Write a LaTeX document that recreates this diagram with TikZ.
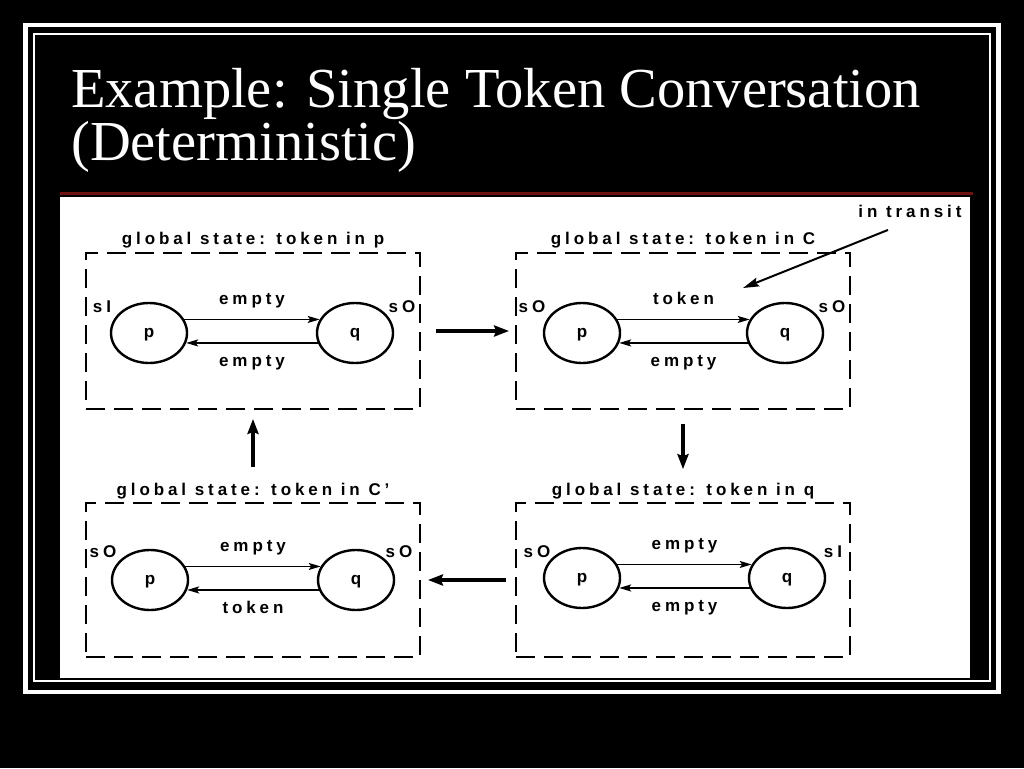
\documentclass[tikz,border=0pt]{standalone}
\usepackage{fontspec}
\setmainfont{Liberation Serif}
\newfontfamily\scanfont{Liberation Sans}[LetterSpace=23]
\usetikzlibrary{positioning,arrows.meta,shapes.geometric,calc}

\definecolor{rulered}{RGB}{110,18,18}

\begin{document}
\begin{tikzpicture}[x=1pt, y=-1pt,
  ttl/.style={text=white, inner sep=0pt, font={\fontsize{56.5}{53}\selectfont}},
  lbl/.style={inner sep=0pt, text height=12pt, text depth=3.5pt, font={\fontsize{17}{18}\scanfont\bfseries}},
  panel/.style={draw, dash pattern=on 19pt off 9pt, line width=1.8pt, minimum width=334pt,
                minimum height=156pt, inner sep=0pt},
  state/.style={lbl, ellipse, draw, line width=2.4pt, minimum width=76pt, minimum height=60pt},
  msg/.style={-{Stealth[length=12pt,width=7pt,inset=2.5pt]}, line width=1.6pt},
  flow/.style={-{Stealth[length=15pt,width=11pt,inset=2pt]}, line width=3.5pt},
  ptr/.style={-{Stealth[length=16pt,width=9pt,inset=2.5pt]}, line width=2pt}
]
\useasboundingbox (0,0) rectangle (1024,768);
\fill[black] (0,0) rectangle (1024,768);
\draw[white, line width=4.5pt] (25.5,25) rectangle (998.5,692);
\draw[white, line width=1.6pt] (34,34) rectangle (990,681);
\fill[white] (60,197) rectangle (970,678);
\draw[rulered, line width=3pt] (60,193.5) -- (973,193.5);

\node[ttl, anchor=base west] (title1) at (71,107) {Example: Single Token Conversation};
\node[ttl, anchor=base west] (title2) at (71,160) {(Deterministic)};

\node[panel] (boxP)  at (253,331) {};
\node[panel] (boxC)  at (683,331) {};
\node[panel, minimum height=154pt] (boxCp) at (253,580) {};
\node[panel, minimum height=154pt] (boxQ)  at (683,580) {};

\node[lbl, above=4pt of boxP]  (tP)  {global state: token in p};
\node[lbl, above=4pt of boxC]  (tC)  {global state: token in C};
\node[lbl, above=3pt of boxCp] (tCp) {global state: token in C’};
\node[lbl, above=3pt of boxQ]  (tQ)  {global state: token in q};

\node[state] (pP)  at (149,333) {p};
\node[state] (qP)  at (355,333) {q};
\node[state] (pC)  at (582,333) {p};
\node[state] (qC)  at (785,333) {q};
\node[state] (pCp) at (150,580) {p};
\node[state] (qCp) at (356,580) {q};
\node[state] (pQ)  at (582,578) {p};
\node[state] (qQ)  at (787,578) {q};

\node[lbl] (sP1)  at ($(pP)+(-47,-25)$)  {sI};
\node[lbl] (sP2)  at ($(qP)+(47,-25)$)   {sO};
\node[lbl] (sC1)  at ($(pC)+(-50,-25)$)  {sO};
\node[lbl] (sC2)  at ($(qC)+(47,-25)$)   {sO};
\node[lbl] (sCp1) at ($(pCp)+(-47,-27)$) {sO};
\node[lbl] (sCp2) at ($(qCp)+(43,-27)$)  {sO};
\node[lbl] (sQ1)  at ($(pQ)+(-45,-25)$)  {sO};
\node[lbl] (sQ2)  at ($(qQ)+(46,-25)$)   {sI};

\draw[msg] (pP.21)   -- node[lbl, above=11pt] (mP1)  {empty} (qP.159);
\draw[msg] (qP.195)  -- node[lbl, below=11pt] (mP2)  {empty} (pP.345);
\draw[msg] (pC.21)   -- node[lbl, above=11pt] (mC1)  {token} (qC.159);
\draw[msg] (qC.195)  -- node[lbl, below=11pt] (mC2)  {empty} (pC.345);
\draw[msg] (pCp.21)  -- node[lbl, above=11pt] (mCp1) {empty} (qCp.159);
\draw[msg] (qCp.195) -- node[lbl, below=11pt] (mCp2) {token} (pCp.345);
\draw[msg] (pQ.21)   -- node[lbl, above=11pt] (mQ1)  {empty} (qQ.159);
\draw[msg] (qQ.195)  -- node[lbl, below=11pt] (mQ2)  {empty} (pQ.345);

\node[lbl] (transit) at (910,213) {in transit};
\coordinate (transitEnd) at (743,288);
\draw[ptr] ([xshift=-22pt,yshift=-9pt]transit.south) -- (transitEnd);

\draw[flow, shorten <=15pt, shorten >=6pt] (boxP.east) -- (boxC.west);
\draw[flow, shorten <=14pt, shorten >=14pt] (boxC.south) -- (tQ.north);
\draw[flow, shorten <=9pt, shorten >=7pt] (boxQ.west) -- (boxCp.east);
\draw[flow, shorten <=16pt, shorten >=9pt] (tCp.north) -- (boxP.south);
\end{tikzpicture}
\end{document}
